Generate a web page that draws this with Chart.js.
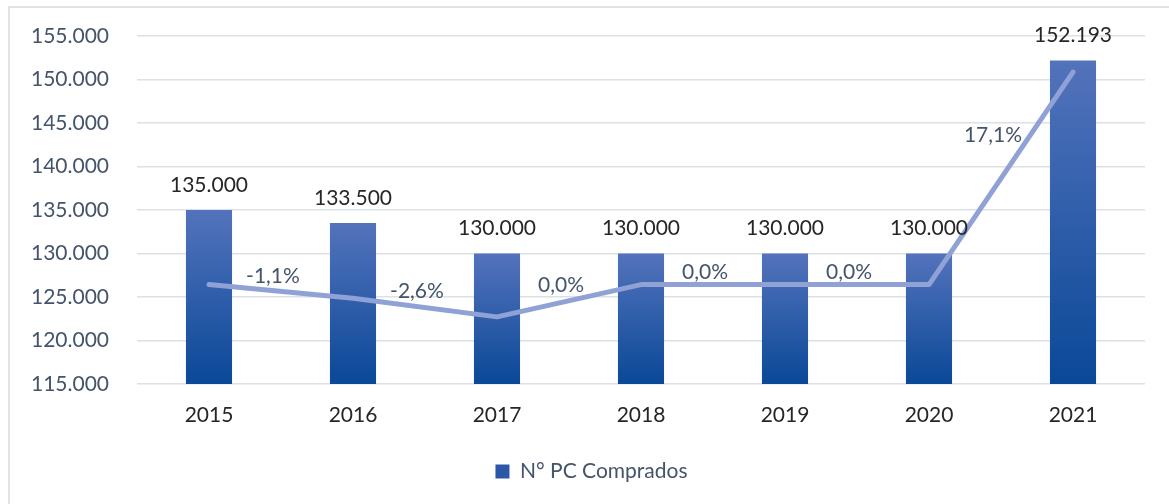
<!DOCTYPE html>
<html>
<head>
<meta charset="utf-8">
<script src="https://cdn.jsdelivr.net/npm/chart.js@4"></script>
<style>
  html, body { margin: 0; padding: 0; background: #fff; }
  #wrap { position: relative; width: 1169px; height: 504px; overflow: hidden; }
  #frame { position: absolute; left: 8px; top: 6px; width: 1200px; height: 540px;
           border: 2px solid #DEE3EA; box-sizing: border-box; }
  canvas { position: absolute; left: 0; top: 0; }
</style>
</head>
<body>
<div id="wrap">
  <div id="frame"></div>
  <canvas id="chart" width="1169" height="504"></canvas>
</div>
<script>
// data
const years = ['2015', '2016', '2017', '2018', '2019', '2020', '2021'];
const pcComprados = [135000, 133500, 130000, 130000, 130000, 130000, 152193];
const variacion = [0, -1.1, -2.6, 0.0, 0.0, 0.0, 17.1];   // % vs año anterior
const yTicks = [115000, 120000, 125000, 130000, 135000, 140000, 145000, 150000, 155000];

const FONT = 'Lato, "Open Sans", sans-serif';
const FSIZE = 21;
const SLATE = '#44546A';
const DARK = '#262626';

function fmtMiles(v) {
  return String(Math.round(v)).replace(/\B(?=(\d{3})+(?!\d))/g, '.');
}
function fmtPct(v) {
  return v.toFixed(1).replace('.', ',') + '%';
}

function barGradient(ctx) {
  const chart = ctx.chart;
  const area = chart.chartArea;
  if (!area || ctx.type !== 'data') return '#2E5BAA';
  const top = chart.scales.y.getPixelForValue(ctx.raw);
  const g = chart.ctx.createLinearGradient(0, top, 0, area.bottom);
  g.addColorStop(0, '#5373BB');
  g.addColorStop(1, '#0A4898');
  return g;
}

// legend sits centred on the whole frame, not on the left-padded box
const legendShift = {
  id: 'legendShift',
  afterLayout(chart) {
    if (chart.legend) chart.legend.left += 38;
  }
};

// value labels above bars, % labels next to the line
const labelsPlugin = {
  id: 'labelsPlugin',
  afterDatasetsDraw(chart) {
    const c = chart.ctx;
    c.save();
    c.font = FSIZE + 'px ' + FONT;
    c.textAlign = 'center';
    c.textBaseline = 'middle';

    const bars = chart.getDatasetMeta(0).data;
    c.fillStyle = DARK;
    bars.forEach((b, i) => {
      c.fillText(fmtMiles(pcComprados[i]), b.x, b.y - 25);
    });

    const pts = chart.getDatasetMeta(1).data;
    const lineY = x => {
      for (let k = 0; k < pts.length - 1; k++) {
        const a = pts[k], b = pts[k + 1];
        if (x >= a.x && x <= b.x) return a.y + (b.y - a.y) * (x - a.x) / (b.x - a.x);
      }
      return x < pts[0].x ? pts[0].y : pts[pts.length - 1].y;
    };
    c.fillStyle = SLATE;
    for (let i = 1; i < pts.length; i++) {
      const txt = fmtPct(variacion[i]);
      const hw = c.measureText(txt).width / 2;
      const lx = pts[i].x - 80;
      const ly = Math.min(lineY(lx - hw), lineY(lx + hw)) - 12;
      c.fillText(txt, lx, ly);
    }
    c.restore();
  }
};

new Chart(document.getElementById('chart'), {
  type: 'bar',
  data: {
    labels: years,
    datasets: [
      {
        type: 'bar',
        label: 'N° PC Comprados',
        data: pcComprados,
        backgroundColor: barGradient,
        barPercentage: 0.32,
        categoryPercentage: 1,
        yAxisID: 'y',
        order: 2
      },
      {
        type: 'line',
        label: 'Variación',
        data: variacion,
        borderColor: '#8FA1D5',
        borderWidth: 5,
        borderCapStyle: 'round',
        borderJoinStyle: 'round',
        pointRadius: 0,
        tension: 0,
        fill: false,
        yAxisID: 'y2',
        order: 1
      }
    ]
  },
  options: {
    responsive: false,
    animation: false,
    devicePixelRatio: 1,
    layout: { padding: { left: 0, right: 24, top: 36, bottom: 12 } },
    plugins: {
      tooltip: { enabled: false },
      legend: {
        position: 'bottom',
        labels: {
          generateLabels: chart => [{
            text: 'N° PC Comprados',
            fillStyle: '#2C57A8',
            strokeStyle: '#2C57A8',
            lineWidth: 0,
            datasetIndex: 0,
            fontColor: SLATE
          }],
          boxWidth: 14,
          boxHeight: 14,
          color: SLATE,
          font: { family: FONT, size: FSIZE },
          padding: 10
        }
      }
    },
    scales: {
      x: {
        grid: { display: false, drawTicks: false },
        border: { display: false },
        ticks: { color: DARK, font: { family: FONT, size: FSIZE }, padding: 19 },
        afterFit: s => { s.height = 67; }
      },
      y: {
        min: 115000,
        max: 155000,
        afterBuildTicks: s => { s.ticks = yTicks.map(v => ({ value: v })); },
        grid: { color: '#DCE1E8', lineWidth: 1.6, drawTicks: false },
        border: { display: false },
        ticks: {
          color: SLATE,
          font: { family: FONT, size: FSIZE },
          padding: 28,
          callback: v => fmtMiles(v)
        },
        afterFit: s => { s.width = 137; s.paddingTop = 0; s.paddingBottom = 0; }
      },
      y2: {
        display: false,
        position: 'right',
        min: -8,
        max: 20
      }
    }
  },
  plugins: [legendShift, labelsPlugin]
});
</script>
</body>
</html>
